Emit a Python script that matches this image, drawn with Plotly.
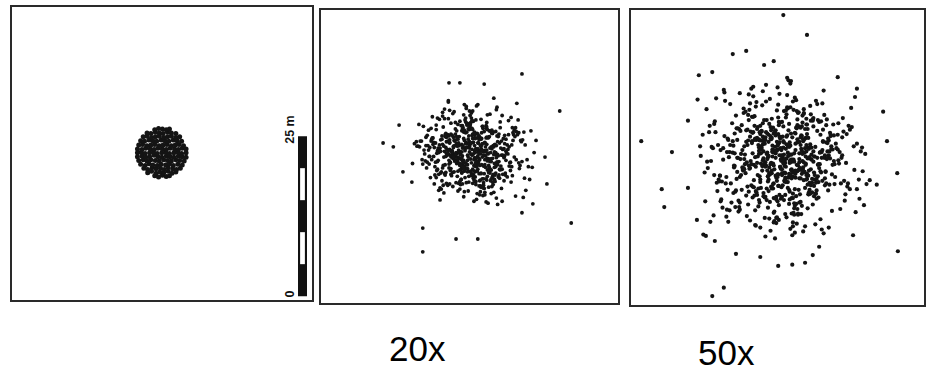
import plotly.graph_objects as go

# ---------------- data (metres; origin = lower-left corner of each plot) ----------------
# Panel 1: the initial dense patch of seeds
p1_x = [22.3, 22.9, 23.5, 24.1, 24.6,
        21.2, 21.8, 22.5, 23.1, 23.7, 24.4, 25.0, 25.6,
        20.6, 21.2, 21.9, 22.5, 23.2, 23.8, 24.4, 25.1, 25.7, 26.3,
        20.1, 20.8, 21.4, 22.0, 22.7, 23.3, 24.0, 24.6, 25.2, 25.9, 26.6,
        19.8, 20.5, 21.1, 21.7, 22.4, 23.0, 23.7, 24.3, 24.9, 25.6, 26.2, 26.9,
        19.6, 20.3, 20.9, 21.5, 22.2, 22.8, 23.4, 24.1, 24.7, 25.3, 26.0, 26.6, 27.2,
        19.6, 20.2, 20.8, 21.5, 22.1, 22.7, 23.4, 24.0, 24.6, 25.3, 25.9, 26.5, 27.2,
        19.6, 20.3, 20.9, 21.6, 22.2, 22.8, 23.5, 24.1, 24.7, 25.4, 26.0, 26.6, 27.2,
        19.8, 20.4, 21.1, 21.7, 22.3, 23.0, 23.6, 24.2, 24.9, 25.5, 26.1, 26.8,
        20.1, 20.7, 21.4, 22.0, 22.6, 23.3, 23.9, 24.5, 25.2, 25.8, 26.5,
        20.5, 21.1, 21.8, 22.4, 23.0, 23.7, 24.3, 24.9, 25.6, 26.2,
        21.1, 21.7, 22.4, 23.0, 23.6, 24.3, 24.9, 25.6,
        22.3, 22.9, 23.5, 24.1, 24.6]
p1_y = [19.4, 19.2, 19.5, 19.3, 19.4,
        19.9, 20.1, 19.8, 20.0, 19.9, 20.1, 19.8, 20.0,
        20.6, 20.4, 20.7, 20.5, 20.6, 20.4, 20.7, 20.5, 20.4, 20.6,
        21.2, 21.0, 21.3, 21.1, 21.0, 21.2, 21.1, 21.3, 21.0, 21.2, 21.1,
        21.8, 21.9, 21.7, 21.9, 21.8, 21.7, 21.9, 21.8, 21.7, 21.9, 21.8, 21.7,
        22.4, 22.5, 22.3, 22.4, 22.6, 22.4, 22.3, 22.5, 22.4, 22.3, 22.5, 22.4, 22.3,
        23.0, 23.1, 22.9, 23.0, 23.1, 22.9, 23.0, 23.1, 22.9, 23.0, 23.1, 22.9, 23.0,
        23.6, 23.5, 23.7, 23.6, 23.5, 23.7, 23.6, 23.5, 23.7, 23.6, 23.5, 23.7, 23.6,
        24.2, 24.3, 24.1, 24.2, 24.3, 24.1, 24.2, 24.3, 24.1, 24.2, 24.3, 24.1,
        24.9, 24.8, 25.0, 24.9, 24.8, 25.0, 24.9, 24.8, 25.0, 24.9, 24.8,
        25.5, 25.6, 25.4, 25.5, 25.6, 25.4, 25.5, 25.6, 25.4, 25.5,
        26.1, 26.0, 26.2, 26.1, 26.0, 26.2, 26.1, 26.0,
        26.6, 26.8, 26.7, 26.6, 26.7]

# Panel 2: after 20x dispersal
p2_x = [22.1, 26.8, 19.5, 24.3, 28.9, 21.7, 23.0, 17.6, 25.5, 20.4, 30.2, 23.8, 18.9, 26.1, 22.6, 27.4, 15.8, 24.9, 21.2, 29.3,
        23.5, 19.9, 25.8, 22.9, 31.6, 20.8, 24.6, 18.2, 27.9, 23.2, 16.9, 26.4, 21.5, 24.1, 28.3, 20.1, 22.4, 33.0, 25.1, 19.2,
        24.7, 21.9, 27.1, 17.3, 23.6, 26.0, 20.6, 29.8, 22.2, 25.3, 18.6, 24.0, 30.9, 21.3, 23.9, 14.9, 26.6, 22.8, 19.6, 27.7,
        25.0, 20.3, 23.3, 28.6, 21.8, 16.4, 24.5, 26.9, 19.0, 22.5, 31.1, 23.7, 18.4, 25.7, 21.1, 27.2, 20.9, 24.2, 29.6, 22.0,
        17.9, 26.3, 23.1, 20.0, 25.9, 28.1, 21.6, 24.8, 15.5, 23.4, 27.5, 19.4, 22.7, 30.5, 25.2, 20.5, 24.4, 18.0, 26.7, 22.3,
        28.4, 21.0, 24.1, 19.7, 32.2, 23.6, 17.1, 25.6, 22.0, 27.0, 20.2, 24.9, 29.1, 21.4, 23.0, 18.7, 26.2, 24.6, 16.2, 25.4,
        22.8, 27.8, 20.7, 23.9, 19.3, 26.5, 21.9, 30.0, 24.3, 18.3, 25.1, 22.1, 28.7, 23.5, 20.0, 26.0, 17.4, 24.7, 21.2, 27.3,
        23.2, 19.8, 25.5, 29.9, 22.6, 16.7, 24.0, 26.8, 21.0, 23.7, 31.8, 20.4, 25.8, 18.8, 22.9, 28.0, 24.5, 19.1, 26.3, 21.7,
        25.3, 22.4, 14.3, 27.6, 23.8, 20.9, 29.4, 24.2, 18.5, 26.1, 22.0, 30.7, 21.5, 25.0, 17.7, 23.3, 27.1, 20.6, 24.8, 28.8,
        19.5, 23.1, 26.6, 21.8, 25.7, 16.0, 22.5, 28.2, 24.4, 20.1, 27.5, 23.6, 18.1, 25.9, 21.3, 32.6, 24.0, 22.7, 19.9, 26.9,
        23.9, 28.5, 20.3, 24.6, 17.2, 26.2, 22.2, 29.5, 21.0, 25.2, 19.0, 23.4, 27.9, 20.8, 24.1, 15.3, 26.4, 22.9, 30.4, 21.6,
        25.6, 18.6, 23.0, 27.3, 21.1, 24.7, 19.6, 28.6, 22.3, 26.7, 16.5, 24.3, 20.5, 25.4, 31.3, 22.1, 23.7, 18.2, 27.0, 21.4,
        24.9, 20.7, 26.5, 22.6, 29.2, 17.8, 23.5, 25.1, 19.3, 27.7, 21.9, 24.2, 33.6, 20.2, 22.8, 26.0, 18.9, 25.8, 23.2, 28.3,
        21.2, 24.5, 16.8, 26.8, 23.1, 20.0, 27.4, 22.4, 30.1, 25.3, 19.7, 23.8, 21.7, 28.9, 24.0, 17.5, 25.6, 22.0, 26.3, 20.4,
        23.6, 27.2, 19.4, 24.8, 22.5, 31.0, 20.9, 25.9, 18.4, 23.3, 26.6, 21.3, 29.7, 24.4, 15.9, 22.7, 27.6, 20.1, 25.0, 23.0,
        31.4, 37.3, 9.7, 12.2, 39.1, 15.9, 21.1, 24.5, 15.9, 35.3, 33.1, 35.0, 31.4, 20.0, 21.7, 25.5, 11.3, 12.8, 14.2]
p2_y = [24.2, 19.8, 26.5, 21.3, 23.7, 28.4, 20.6, 25.1, 17.9, 22.8, 27.0, 23.3, 19.1, 25.8, 21.9, 30.2, 22.4, 18.3, 24.9, 26.3,
        20.2, 23.9, 27.7, 21.6, 16.5, 25.4, 22.1, 28.9, 19.5, 24.5, 22.9, 26.9, 18.7, 23.5, 20.9, 25.0, 31.0, 21.2, 24.0, 17.2,
        26.1, 22.6, 19.3, 25.6, 23.1, 29.4, 20.4, 24.7, 21.8, 27.3, 18.0, 23.8, 26.6, 22.2, 15.9, 25.2, 20.8, 28.1, 23.4, 19.7,
        24.4, 21.0, 27.9, 22.7, 18.5, 25.9, 23.0, 20.1, 29.8, 24.1, 21.5, 26.4, 17.6, 23.6, 25.5, 19.0, 22.3, 28.6, 20.7, 24.8,
        22.0, 26.0, 18.9, 23.2, 27.5, 21.4, 24.6, 16.9, 25.3, 22.5, 30.6, 20.0, 24.3, 26.8, 19.4, 23.7, 21.7, 27.1, 18.2, 25.7,
        23.1, 28.2, 20.5, 24.0, 22.4, 26.2, 19.6, 25.0, 21.1, 32.0, 23.9, 17.4, 24.7, 22.8, 27.8, 20.3, 25.9, 21.9, 23.3, 18.8,
        26.7, 22.1, 24.5, 19.2, 28.8, 23.5, 20.9, 25.4, 16.2, 24.2, 21.6, 27.2, 23.0, 19.9, 26.1, 22.6, 29.1, 20.2, 24.9, 21.3,
        25.2, 18.4, 23.8, 27.4, 21.0, 24.6, 20.6, 26.5, 22.9, 30.0, 19.5, 23.1, 25.8, 17.8, 22.3, 28.3, 24.1, 21.5, 26.9, 20.8,
        23.6, 27.0, 21.8, 15.4, 25.1, 22.2, 24.4, 19.0, 28.7, 23.3, 20.4, 26.3, 22.7, 25.6, 18.6, 24.8, 21.2, 29.6, 23.9, 20.0,
        24.3, 19.8, 26.8, 22.5, 23.0, 27.6, 21.4, 25.3, 17.1, 24.0, 22.0, 28.5, 20.7, 25.9, 23.4, 19.3, 26.2, 21.7, 31.4, 24.6,
        22.4, 25.7, 20.1, 23.7, 27.3, 18.1, 24.5, 21.9, 26.4, 22.8, 29.2, 20.5, 25.0, 23.2, 19.7, 27.9, 22.1, 24.9, 16.7, 26.0,
        21.6, 24.2, 28.0, 20.3, 23.5, 25.5, 18.7, 22.9, 26.7, 24.1, 21.1, 30.8, 23.8, 19.4, 25.2, 22.2, 27.1, 20.9, 24.4, 17.5,
        25.8, 22.6, 19.1, 26.6, 23.3, 21.3, 28.9, 24.7, 20.2, 23.0, 27.7, 18.5, 25.4, 22.0, 24.3, 20.8, 26.1, 15.8, 23.6, 29.3,
        21.8, 25.0, 23.9, 19.6, 27.2, 22.3, 24.6, 20.6, 26.3, 18.3, 23.1, 28.4, 21.5, 25.6, 22.7, 24.8, 17.3, 26.9, 20.4, 23.7,
        24.0, 20.0, 26.0, 22.4, 28.6, 21.0, 25.3, 19.2, 23.5, 27.5, 22.1, 24.5, 18.9, 26.5, 21.7, 30.4, 23.2, 25.1, 20.3, 22.8,
        35.8, 30.0, 25.0, 27.8, 12.5, 8.0, 10.0, 10.0, 11.7, 18.6, 15.5, 22.8, 14.1, 34.4, 34.4, 34.2, 24.4, 20.5, 18.9]
p2b_x = [26.2, 20.7, 23.9, 18.5, 28.0, 22.3, 25.4, 16.6, 24.6, 21.4, 29.7, 19.2, 27.1, 23.0, 31.5, 20.0, 25.9, 22.7, 17.8, 26.9,
         21.8, 24.8, 19.6, 27.5, 23.4, 15.4, 25.3, 22.0, 30.3, 20.5, 26.4, 18.0, 24.2, 28.7, 21.1, 23.7, 32.4, 19.9, 25.7, 22.5,
         27.8, 20.3, 24.5, 17.0, 26.1, 23.2, 29.0, 21.6, 18.9, 25.0, 22.9, 30.8, 20.8, 24.0, 16.3, 27.3, 21.9, 25.6, 19.4, 23.5,
         24.4, 28.4, 20.1, 26.7, 22.2, 18.2, 25.2, 23.8, 31.2, 21.3, 27.0, 19.0, 24.9, 22.6, 29.4, 17.4, 26.0, 20.6, 23.1, 28.1,
         22.4, 25.8, 18.7, 27.4, 21.5, 24.3, 15.0, 26.6, 23.6, 20.2, 30.0, 22.1, 25.5, 19.3, 28.6, 24.7, 21.0, 17.2, 26.3, 23.3,
         20.9, 27.6, 24.1, 19.8, 33.3, 22.8, 26.5, 18.3, 25.1, 21.7, 29.2, 23.9, 16.8, 27.2, 20.4, 24.6, 22.0, 30.6, 19.5, 25.7,
         28.2, 21.2, 23.4, 17.6, 26.8, 22.7, 25.0, 20.0, 31.9, 24.2, 18.6, 27.7, 21.8, 23.6, 19.1, 26.2, 14.6, 24.9, 22.4, 29.8,
         23.0, 26.0, 20.7, 28.8, 22.3, 18.1, 25.3, 21.4, 27.1, 24.5, 16.1, 23.8, 30.5, 20.3, 25.9, 22.9, 19.7, 26.6, 21.1, 24.0,
         27.9, 19.2, 24.7, 22.1, 29.1, 17.9, 25.4, 21.6, 23.2, 26.9, 20.5, 31.4, 24.3, 18.8, 22.6, 28.5, 20.1, 25.6, 23.5, 16.4,
         25.1, 21.9, 27.3, 19.0, 24.4, 30.2, 22.2, 18.4, 26.4, 23.7, 20.8, 28.9, 15.7, 24.8, 22.5, 27.5, 21.3, 25.2, 19.5, 32.0,
         22.0, 26.7, 20.2, 24.1, 17.3, 28.3, 23.1, 25.7, 19.9, 27.0, 21.7, 23.9, 29.6, 18.5, 25.0, 22.8, 26.1, 20.6, 24.6, 16.9,
         26.5, 20.0, 23.3, 28.0, 21.5, 25.5, 18.0, 24.2, 30.9, 22.4, 19.6, 27.4, 23.6, 21.0, 26.2, 15.2, 24.5, 22.2, 28.7, 20.9,
         23.8, 27.8, 19.3, 25.3, 22.7, 17.7, 26.8, 21.2, 24.0, 29.3, 20.4, 25.8, 23.0, 18.2, 27.2, 22.3, 31.7, 24.4, 19.8, 26.0,
         21.6, 24.9, 28.6, 20.3, 23.4, 16.6, 25.9, 22.0, 27.6, 19.1, 24.3, 30.4, 21.8, 25.1, 17.5, 23.7, 26.4, 20.7, 28.2, 22.6,
         24.7, 19.4, 26.3, 23.2, 29.9, 21.4, 25.6, 18.7, 22.9, 27.1, 20.1, 24.1, 32.8, 22.1, 26.6, 17.0, 23.5, 28.4, 21.0, 25.4]
p2b_y = [21.5, 25.9, 19.7, 24.1, 27.4, 22.3, 18.4, 26.2, 23.6, 20.6, 29.0, 22.8, 24.7, 17.5, 25.5, 21.1, 23.9, 30.7, 20.0, 26.7,
         23.2, 19.1, 25.2, 22.0, 28.2, 24.4, 16.8, 21.7, 26.0, 23.5, 20.3, 27.8, 22.5, 24.9, 18.8, 25.7, 21.3, 31.6, 23.0, 19.6,
         26.4, 22.9, 20.9, 24.3, 15.6, 27.1, 23.4, 21.8, 25.6, 18.1, 23.1, 28.6, 20.5, 24.6, 22.2, 26.8, 19.3, 25.1, 21.6, 29.7,
         22.7, 24.0, 18.6, 26.5, 21.0, 23.8, 27.6, 20.1, 25.4, 22.4, 17.3, 24.8, 23.3, 28.9, 21.4, 25.8, 19.8, 22.6, 26.1, 24.2,
         20.7, 27.3, 23.7, 16.4, 25.0, 22.1, 24.5, 19.4, 28.4, 21.9, 26.6, 23.0, 20.2, 30.3, 24.1, 18.3, 22.8, 25.3, 21.2, 27.9,
         24.6, 21.6, 19.0, 26.3, 23.5, 28.0, 20.8, 22.3, 25.7, 17.8, 24.0, 21.5, 27.0, 23.2, 19.9, 25.9, 22.7, 31.2, 20.4, 24.4,
         23.1, 26.9, 20.6, 22.9, 18.9, 25.1, 28.7, 21.7, 24.7, 22.0, 16.1, 26.0, 23.6, 20.0, 27.5, 22.5, 24.9, 19.2, 25.4, 21.3,
         27.2, 22.2, 24.3, 20.3, 29.4, 23.4, 18.0, 25.6, 21.8, 26.4, 23.9, 19.5, 22.4, 28.1, 24.8, 21.0, 25.2, 17.1, 23.3, 26.7,
         20.9, 24.5, 22.6, 27.7, 19.7, 25.0, 21.4, 23.7, 30.0, 18.5, 26.2, 22.1, 24.0, 20.5, 28.3, 23.0, 25.5, 16.9, 21.9, 24.6,
         26.6, 19.3, 23.5, 21.1, 25.8, 22.8, 27.4, 20.1, 24.2, 18.7, 29.9, 22.3, 25.3, 21.5, 23.8, 26.1, 19.8, 24.9, 22.9, 17.6,
         23.6, 27.0, 20.7, 25.7, 22.4, 15.9, 24.4, 21.2, 28.8, 23.2, 19.0, 26.5, 22.0, 24.7, 20.2, 27.8, 23.4, 18.2, 25.0, 21.7,
         22.5, 25.4, 29.3, 20.8, 23.9, 26.8, 19.6, 24.1, 21.9, 17.4, 25.9, 22.7, 27.3, 23.1, 20.4, 24.5, 31.0, 21.3, 26.2, 22.2,
         25.1, 20.0, 23.7, 27.6, 18.8, 24.3, 22.6, 26.0, 21.4, 28.5, 23.0, 19.4, 25.6, 22.1, 24.8, 16.6, 26.7, 20.6, 23.5, 27.1,
         21.8, 24.6, 19.1, 26.4, 23.3, 22.0, 28.2, 20.3, 25.2, 18.4, 24.0, 27.4, 21.6, 23.8, 25.8, 20.9, 29.5, 22.8, 17.9, 24.9,
         23.4, 26.3, 21.1, 24.2, 19.9, 27.9, 22.4, 25.5, 20.5, 23.6, 30.1, 21.7, 26.9, 18.6, 24.4, 22.9, 25.0, 20.1, 27.2, 23.1]

# Panel 3: after 50x dispersal
p3_x = [21.4, 28.9, 16.2, 25.7, 31.8, 19.3, 23.1, 12.6, 27.4, 20.5, 34.2, 24.8, 17.7, 29.6, 22.2, 26.3, 14.1, 30.7, 18.8, 24.0, 33.0, 20.9, 26.9, 15.4, 23.6,
        28.1, 19.9, 25.2, 11.8, 22.7, 30.3, 17.1, 26.6, 21.0, 35.6, 24.4, 18.4, 27.8, 13.5, 23.3, 29.2, 20.1, 25.9, 16.6, 32.4, 22.0, 27.0, 19.0, 24.7, 31.1,
        17.4, 26.2, 22.9, 29.9, 14.8, 25.0, 20.7, 36.8, 23.8, 18.1, 28.5, 21.6, 10.9, 27.3, 24.1, 19.6, 31.5, 22.5, 16.0, 26.5, 30.0, 20.3, 25.5, 13.0, 23.0,
        27.6, 21.2, 33.7, 18.6, 24.9, 15.7, 29.1, 22.8, 26.0, 19.4, 32.0, 23.5, 17.0, 28.3, 20.0, 25.4, 12.2, 30.9, 21.9, 24.3, 18.2, 27.1, 34.9, 22.3, 26.8,
        19.7, 24.6, 29.5, 16.9, 23.2, 27.9, 21.1, 14.4, 25.8, 31.3, 20.6, 26.4, 22.4, 18.0, 30.4, 23.9, 15.1, 28.7, 21.5, 33.4, 25.1, 19.1, 27.5, 22.9, 11.3,
        26.1, 20.8, 24.5, 30.6, 17.8, 23.4, 28.0, 13.9, 25.6, 21.8, 35.1, 22.6, 19.2, 27.2, 16.4, 29.7, 24.2, 20.4, 32.7, 23.7, 18.5, 26.7, 14.6, 25.3, 21.3,
        29.3, 22.1, 16.7, 27.7, 24.0, 19.5, 31.9, 23.0, 12.9, 26.3, 20.2, 28.6, 25.0, 17.5, 30.1, 21.7, 36.1, 24.6, 18.9, 27.0, 22.7, 15.2, 26.0, 33.2, 20.7,
        23.5, 18.3, 28.4, 25.7, 21.0, 31.0, 14.0, 24.9, 19.8, 27.6, 22.3, 34.4, 17.2, 26.5, 20.9, 29.8, 23.3, 16.1, 25.1, 30.8, 21.5, 10.4, 27.3, 24.2, 19.3,
        26.6, 22.0, 32.9, 17.9, 24.7, 28.8, 20.0, 13.2, 25.9, 23.1, 30.5, 18.7, 27.4, 21.4, 35.9, 24.4, 16.3, 28.2, 22.5, 19.9, 26.2, 31.6, 14.9, 25.2, 20.6,
        24.1, 29.0, 18.0, 22.8, 27.1, 15.5, 25.5, 21.2, 33.9, 23.7, 19.4, 28.1, 12.0, 26.9, 22.2, 30.2, 17.6, 24.8, 20.3, 31.4, 25.8, 16.8, 27.9, 23.2, 37.3,
        21.9, 26.4, 19.0, 29.4, 23.9, 14.3, 27.5, 22.6, 32.3, 18.6, 25.3, 20.8, 28.5, 16.5, 24.3, 30.7, 21.1, 26.8, 11.6, 23.4, 29.6, 19.7, 25.6, 22.1, 34.0,
        17.3, 27.8, 24.5, 20.5, 31.2, 23.6, 15.9, 28.3, 21.6, 26.1, 13.6, 25.0, 19.1, 29.2, 22.9, 33.5, 18.2, 24.0, 27.2, 20.1, 30.3, 23.0, 16.6, 26.7, 21.8,
        25.4, 20.4, 29.9, 23.8, 17.0, 27.0, 22.4, 35.3, 19.6, 24.6, 14.7, 28.6, 21.3, 26.3, 31.7, 23.1, 18.8, 25.7, 12.4, 27.6, 22.0, 30.0, 20.2, 24.9, 16.2,
        28.7, 21.0, 25.1, 18.4, 32.5, 23.5, 26.5, 15.0, 22.7, 29.1, 19.5, 24.2, 27.4, 20.7, 36.4, 23.3, 17.7, 26.0, 21.5, 30.9, 24.7, 13.3, 28.0, 22.3, 19.2,
        23.8, 27.5, 15.9, 18.0, 22.3, 20.8, 10.6, 12.7, 1.6, 6.4, 4.8, 5.2, 8.9, 8.9, 41.6, 40.0, 39.4, 41.7, 14.5, 12.7,
        35.3, 38.4, 11.7, 16.4, 20.2, 23.0, 25.2, 27.2, 28.4, 29.4, 34.7, 10.3, 13.1, 32.3]
p3_y = [23.1, 17.4, 26.8, 19.9, 22.0, 29.5, 15.6, 24.7, 20.3, 31.2, 18.1, 25.4, 21.2, 13.4, 27.7, 22.8, 16.5, 24.0, 33.8, 19.3, 26.2, 21.7, 11.5, 23.9, 28.6,
        18.7, 25.0, 20.9, 30.6, 16.9, 23.4, 27.2, 14.2, 22.3, 19.6, 26.5, 32.9, 21.0, 17.8, 24.4, 28.9, 20.1, 12.7, 25.8, 22.6, 18.4, 30.0, 23.7, 15.8, 26.9,
        21.5, 27.9, 16.2, 24.2, 19.0, 35.0, 22.9, 18.9, 25.6, 13.9, 29.2, 20.6, 23.3, 26.1, 17.2, 31.7, 21.9, 10.4, 24.9, 19.8, 27.4, 22.1, 15.1, 28.3, 20.4,
        24.6, 18.2, 26.7, 21.4, 30.9, 16.0, 23.0, 19.4, 28.1, 14.8, 25.2, 22.5, 33.1, 17.6, 24.1, 20.7, 27.0, 12.1, 22.2, 29.8, 18.5, 25.9, 21.1, 16.7, 23.6,
        27.5, 20.0, 23.8, 15.3, 26.3, 19.1, 31.8, 22.7, 17.0, 24.8, 28.4, 21.3, 13.1, 25.5, 20.8, 30.3, 18.0, 23.2, 26.6, 16.3, 22.4, 34.1, 19.7, 24.3, 11.0,
        21.8, 26.0, 18.3, 29.0, 23.5, 16.6, 25.1, 20.2, 32.4, 22.0, 14.5, 27.3, 19.5, 24.5, 17.9, 28.7, 21.6, 25.7, 15.0, 23.1, 30.5, 20.5, 26.4, 12.9, 22.8,
        19.2, 24.0, 27.6, 17.3, 22.6, 31.0, 20.0, 25.3, 14.0, 23.7, 28.0, 18.6, 26.8, 21.2, 33.5, 16.1, 24.6, 19.9, 29.4, 22.3, 13.6, 25.8, 20.9, 27.1, 17.5,
        23.4, 29.7, 15.7, 21.0, 26.2, 18.8, 24.2, 11.9, 27.8, 22.9, 19.0, 30.8, 20.3, 25.0, 16.8, 23.9, 28.5, 21.5, 14.3, 26.0, 19.6, 32.1, 22.1, 24.4, 17.1,
        26.5, 20.6, 23.0, 30.2, 18.0, 24.7, 16.4, 27.0, 21.9, 13.3, 25.4, 22.5, 29.1, 19.3, 24.0, 35.5, 17.7, 22.7, 26.9, 15.4, 21.1, 28.2, 20.0, 10.9, 25.1,
        22.2, 17.9, 27.3, 24.1, 20.8, 31.4, 15.9, 23.6, 19.0, 26.3, 12.5, 28.8, 21.4, 25.6, 18.2, 23.0, 30.0, 16.5, 24.8, 20.4, 27.7, 14.6, 22.9, 33.0, 19.5,
        25.9, 21.3, 18.5, 28.6, 23.5, 15.2, 26.7, 20.2, 24.3, 31.5, 17.4, 22.0, 27.9, 19.7, 13.7, 25.3, 21.8, 29.6, 16.2, 24.5, 20.9, 26.1, 11.3, 23.2, 28.0,
        18.0, 24.4, 30.7, 21.0, 26.6, 16.9, 23.8, 19.1, 28.3, 14.1, 25.0, 22.4, 32.6, 20.1, 24.9, 17.3, 27.4, 21.7, 12.3, 25.7, 19.8, 29.3, 23.0, 15.5, 26.4,
        22.7, 27.1, 19.4, 24.6, 14.9, 29.9, 21.2, 25.2, 17.6, 23.3, 31.9, 20.7, 26.8, 16.0, 22.5, 28.1, 18.7, 24.2, 13.0, 27.5, 21.0, 25.5, 19.2, 34.6, 23.7,
        20.3, 25.8, 16.7, 28.9, 22.1, 18.4, 26.2, 23.9, 12.8, 27.2, 21.6, 30.4, 19.6, 24.0, 15.6, 26.0, 22.8, 29.0, 17.8, 23.4, 20.5, 32.3, 24.7, 14.4, 21.9,
        45.3, 42.2, 39.2, 39.7, 38.1, 37.5, 35.9, 36.4, 25.6, 23.9, 18.1, 15.3, 28.8, 18.3, 20.6, 25.6, 30.2, 8.4, 2.7, 1.4,
        33.8, 18.8, 10.8, 8.0, 7.5, 6.1, 6.3, 6.6, 7.8, 9.1, 10.9, 13.3, 10.0, 35.6]
p3b_x = [25.3, 18.9, 28.6, 22.4, 15.8, 27.0, 20.6, 31.4, 24.3, 17.5, 29.9, 23.0, 12.8, 26.5, 21.8, 33.6, 19.5, 25.7, 22.9, 16.4, 28.2, 24.8, 20.2, 30.5, 14.6,
         23.7, 27.9, 19.1, 25.1, 21.4, 34.8, 17.0, 26.2, 22.6, 29.3, 15.1, 24.5, 20.9, 27.4, 11.9, 23.2, 31.8, 18.4, 25.8, 22.1, 28.8, 16.9, 24.0, 30.1, 20.3,
         26.9, 21.6, 13.7, 28.4, 23.9, 19.8, 32.3, 25.5, 17.8, 22.8, 27.2, 20.0, 36.2, 24.6, 18.3, 29.6, 21.1, 26.3, 15.5, 23.4, 30.8, 19.3, 25.0, 22.3, 27.7,
         21.9, 26.7, 16.2, 24.2, 29.0, 20.5, 23.6, 33.0, 18.6, 25.9, 22.2, 14.2, 28.0, 24.9, 19.7, 31.2, 21.3, 26.0, 17.2, 23.1, 27.5, 20.8, 35.3, 24.4, 12.5,
         28.5, 22.7, 19.0, 25.4, 30.6, 17.6, 24.1, 21.5, 27.8, 15.3, 23.8, 29.4, 20.1, 26.6, 22.0, 32.8, 18.1, 25.2, 21.0, 27.1, 13.9, 24.7, 30.3, 19.6, 23.3,
         20.4, 26.4, 23.5, 16.6, 28.9, 22.5, 25.6, 18.8, 31.7, 24.0, 21.2, 27.3, 14.9, 23.0, 29.8, 19.9, 26.1, 22.9, 17.4, 25.3, 34.2, 20.7, 24.6, 28.3, 10.8,
         25.0, 19.4, 27.6, 22.6, 15.0, 26.8, 21.7, 30.0, 24.8, 18.0, 28.1, 23.2, 13.4, 25.7, 20.2, 32.1, 22.3, 26.5, 16.8, 24.3, 29.1, 21.4, 27.4, 19.2, 36.6,
         22.8, 28.7, 17.3, 25.5, 21.0, 31.0, 23.6, 14.5, 26.2, 20.6, 27.9, 24.1, 18.7, 29.7, 22.1, 16.0, 25.9, 23.4, 33.3, 20.0, 26.9, 21.8, 11.2, 24.5, 28.4,
         19.5, 24.9, 22.0, 30.4, 16.3, 27.2, 23.8, 20.4, 25.1, 35.0, 18.5, 26.0, 21.6, 28.6, 13.1, 23.1, 31.5, 19.8, 25.6, 22.7, 17.1, 27.0, 24.2, 20.9, 29.2,
         26.3, 21.1, 15.6, 24.7, 28.0, 19.1, 23.3, 32.6, 22.4, 26.7, 17.9, 25.3, 20.3, 30.9, 23.9, 14.0, 27.5, 21.5, 25.0, 18.2, 28.8, 22.5, 34.5, 24.0, 16.7,
         23.4, 27.7, 20.0, 25.8, 12.3, 29.5, 22.2, 18.9, 26.4, 24.4, 31.3, 20.7, 23.0, 27.1, 15.2, 25.5, 21.9, 29.0, 17.7, 24.8, 22.9, 33.8, 19.3, 26.6, 21.2,
         28.2, 23.7, 16.5, 25.2, 21.4, 30.2, 19.0, 24.3, 27.3, 13.8, 22.6, 26.1, 20.5, 32.4, 23.5, 18.4, 28.5, 21.7, 25.7, 15.9, 24.6, 29.8, 20.1, 26.9, 22.0,
         17.6, 26.0, 23.2, 30.7, 20.8, 24.9, 14.4, 27.6, 22.3, 19.7, 28.9, 25.4, 21.3, 35.7, 23.9, 16.1, 26.7, 22.8, 31.1, 18.6, 24.1, 27.4, 20.6, 11.5, 25.1,
         24.2, 20.4, 29.3, 22.5, 17.0, 26.3, 23.6, 33.1, 19.4, 25.6, 21.8, 28.1, 15.4, 24.5, 30.5, 20.2, 26.8, 23.0, 18.3, 27.8, 22.1, 13.0, 25.3, 29.6, 21.0]
p3b_y = [20.1, 25.6, 17.0, 23.8, 28.4, 19.5, 22.6, 14.7, 26.3, 21.0, 31.5, 18.6, 24.5, 16.1, 27.8, 22.2, 12.4, 25.2, 20.4, 29.6, 23.5, 17.7, 26.7, 19.0, 33.2,
         22.9, 18.0, 27.0, 21.2, 15.2, 24.8, 20.0, 30.1, 23.0, 16.8, 26.0, 19.2, 13.6, 28.2, 22.4, 25.4, 18.9, 21.8, 32.0, 24.3, 17.4, 27.5, 20.7, 11.2, 23.7,
         25.9, 21.5, 19.6, 28.8, 16.4, 23.2, 26.6, 14.1, 22.0, 30.4, 18.3, 24.6, 20.9, 27.3, 15.7, 23.9, 34.4, 19.8, 25.0, 21.3, 17.9, 28.0, 22.7, 12.9, 26.1,
         18.5, 24.1, 21.7, 29.3, 16.6, 25.7, 20.3, 23.4, 13.2, 27.6, 22.1, 19.3, 31.1, 24.9, 17.2, 26.4, 21.0, 15.0, 23.6, 28.6, 20.5, 25.3, 18.1, 32.8, 22.5,
         24.0, 19.9, 26.9, 14.4, 22.8, 30.7, 20.6, 25.5, 17.6, 23.1, 27.9, 21.4, 16.0, 24.4, 29.1, 19.0, 22.3, 26.2, 10.7, 23.8, 20.2, 28.3, 18.7, 25.8, 21.6,
         27.2, 17.3, 23.3, 20.8, 31.9, 24.7, 15.5, 22.0, 26.5, 19.4, 28.9, 21.9, 13.8, 25.1, 23.0, 18.2, 30.0, 20.0, 24.2, 16.7, 27.4, 22.6, 35.1, 19.7, 24.8,
         21.1, 26.0, 18.8, 23.7, 14.9, 28.5, 20.4, 25.6, 22.2, 17.1, 29.8, 23.4, 19.1, 26.8, 12.1, 24.5, 21.8, 27.7, 16.3, 22.9, 31.4, 20.1, 25.0, 18.4, 23.6,
         25.5, 19.6, 28.1, 22.4, 16.9, 24.0, 21.2, 33.6, 18.0, 26.3, 23.1, 14.2, 27.1, 20.7, 24.9, 17.5, 30.3, 22.7, 19.4, 25.9, 21.5, 11.6, 26.6, 23.8, 29.0,
         17.8, 23.5, 26.1, 20.9, 15.3, 27.5, 22.1, 24.6, 19.8, 32.5, 21.3, 25.4, 13.5, 23.2, 28.7, 18.6, 24.3, 20.3, 26.9, 16.5, 22.8, 30.6, 19.2, 25.2, 21.9,
         22.3, 27.0, 19.0, 24.7, 17.4, 29.4, 21.6, 23.9, 14.6, 26.4, 20.6, 31.8, 18.3, 25.7, 22.6, 16.2, 28.2, 23.3, 20.0, 25.0, 12.6, 24.1, 27.8, 19.5, 23.0,
         26.2, 20.2, 23.6, 15.8, 28.0, 22.0, 18.9, 25.3, 21.4, 30.9, 24.4, 17.0, 26.7, 20.8, 13.0, 23.7, 27.3, 19.7, 24.8, 22.5, 34.0, 18.5, 25.8, 21.1, 16.4,
         24.6, 18.7, 27.6, 22.7, 20.1, 29.7, 16.8, 25.1, 23.2, 19.3, 26.5, 14.3, 21.7, 28.4, 24.2, 17.7, 22.4, 32.2, 20.5, 25.6, 23.4, 11.8, 27.0, 21.0, 18.2,
         21.4, 25.9, 17.2, 23.0, 28.9, 20.4, 24.5, 15.1, 26.8, 22.2, 19.1, 30.5, 23.8, 16.6, 25.4, 21.8, 27.9, 13.7, 22.9, 26.3, 19.9, 24.0, 33.4, 20.7, 23.5,
         19.4, 24.3, 22.0, 27.2, 16.0, 25.5, 20.6, 29.2, 23.1, 18.1, 26.0, 21.2, 14.8, 24.9, 28.1, 19.6, 22.5, 31.3, 25.7, 17.3, 23.9, 20.3, 12.3, 26.6, 21.6]

# Scale bar (metres) and panel labels
scale_marks = [0, 5, 10, 15, 20, 25]
scale_labels = ["0", "25 m"]
panel_labels = ["20x", "50x"]

# ---------------- figure ----------------
W, H = 927, 373
PX_PER_M = 6.4
# panel frames in page pixels: (left, right, top, bottom)
frames = [(12, 312, 7, 300), (321, 618, 10, 303), (631, 924, 10, 305)]

fig = go.Figure()
dot = "#141414"
series = [(p1_x, p1_y, 5.0), (p2_x + p2b_x, p2_y + p2b_y, 3.8), (p3_x + p3b_x, p3_y + p3b_y, 4.2)]
for i, (xs, ys, sz) in enumerate(series):
    ax = "" if i == 0 else str(i + 1)
    fig.add_trace(go.Scatter(x=xs, y=ys, mode="markers", xaxis="x" + ax, yaxis="y" + ax,
                             marker=dict(size=sz, color=dot, line=dict(width=0)),
                             hoverinfo="skip", showlegend=False))

for i, (l, r, t, b) in enumerate(frames):
    ax = "" if i == 0 else str(i + 1)
    common = dict(showgrid=False, zeroline=False, showticklabels=False, ticks="",
                  showline=True, mirror=True, linecolor="#2a2a2a", linewidth=2, fixedrange=True)
    fig.update_layout(**{
        "xaxis" + ax: dict(domain=[l / W, r / W], range=[0, (r - l) / PX_PER_M],
                           anchor="y" + ax, **common),
        "yaxis" + ax: dict(domain=[1 - b / H, 1 - t / H], range=[0, (b - t) / PX_PER_M],
                           anchor="x" + ax, **common),
    })

# scale bar in panel 1 (data coordinates, metres)
bar_x0, bar_x1 = (298 - 12) / PX_PER_M, (307 - 12) / PX_PER_M
bar_base = 0.6
inset = 0.33
shapes = [dict(type="rect", xref="x", yref="y", x0=bar_x0, x1=bar_x1,
               y0=bar_base + scale_marks[0], y1=bar_base + scale_marks[-1],
               fillcolor="#111111", line=dict(width=0))]
for k in range(1, len(scale_marks) - 1, 2):
    shapes.append(dict(type="rect", xref="x", yref="y", x0=bar_x0 + inset, x1=bar_x1 - inset,
                       y0=bar_base + scale_marks[k], y1=bar_base + scale_marks[k + 1],
                       fillcolor="white", line=dict(width=0)))
fig.update_layout(shapes=shapes)

label_x = bar_x0 - 1.3
lab_font = dict(family="Liberation Sans, Arial", size=12.5, color="#111111", weight="bold")
big_font = dict(family="Liberation Sans, Arial", size=35, color="black")
annotations = [
    dict(x=label_x, y=bar_base + scale_marks[-1] + 1.1, xref="x", yref="y", text=scale_labels[1],
         textangle=-90, showarrow=False, xanchor="center", yanchor="middle", font=lab_font),
    dict(x=label_x, y=bar_base + scale_marks[0] + 0.35, xref="x", yref="y", text=scale_labels[0],
         textangle=-90, showarrow=False, xanchor="center", yanchor="middle", font=lab_font),
    dict(x=417.5 / W, y=1 - 348.5 / H, xref="paper", yref="paper", text=panel_labels[0],
         showarrow=False, xanchor="center", yanchor="middle", font=big_font),
    dict(x=726 / W, y=1 - 352.5 / H, xref="paper", yref="paper", text=panel_labels[1],
         showarrow=False, xanchor="center", yanchor="middle", font=big_font),
]
fig.update_layout(annotations=annotations)

fig.update_layout(width=W, height=H, margin=dict(l=0, r=0, t=0, b=0),
                  paper_bgcolor="white", plot_bgcolor="white", showlegend=False)

fig.write_html("out.html", config={"displayModeBar": False},
               post_script="document.body.style.margin='0';")
